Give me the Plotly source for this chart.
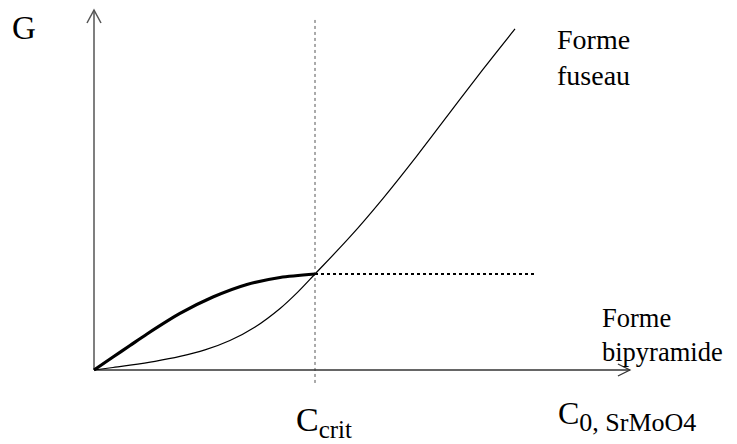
import plotly.graph_objects as go

# Data (C in units of C_crit, G in units of G at C_crit)
fuseau_c = [0.0, 0.086, 0.163, 0.276, 0.389, 0.502, 0.615, 0.729, 0.842, 0.923, 1.0,
            1.158, 1.308, 1.462, 1.611, 1.760, 1.905]
fuseau_g = [0.0, 0.026, 0.050, 0.0906, 0.1417, 0.209, 0.307, 0.448, 0.641, 0.814, 1.0,
            1.386, 1.789, 2.234, 2.684, 3.131, 3.553]

bipyr_c = [0.0, 0.086, 0.163, 0.240, 0.389, 0.538, 0.692, 0.842, 1.0]
bipyr_g = [0.0, 0.135, 0.255, 0.375, 0.589, 0.760, 0.891, 0.964, 1.0]

c_crit = 1.0
g_crit = 1.0
plateau_end = 1.991
x_axis_end = 2.425
y_axis_end = 3.75
vline_bottom = -0.135
vline_top = 3.677

# page body has an 8px margin -> figure covers window px 8..737 x 8..444
OFF = 8
W, H = 737 - OFF, 444 - OFF
x_range = [(OFF - 94) / 221, (737 - 94) / 221]
y_range = [(370 - 444) / 96, (370 - OFF) / 96]

FONT = "Liberation Serif"

fig = go.Figure()

fig.add_trace(go.Scatter(x=[c_crit, c_crit], y=[vline_bottom, vline_top], mode="lines",
                         line=dict(color="#555555", width=1, dash="dot"), hoverinfo="skip"))
fig.add_trace(go.Scatter(x=[c_crit, plateau_end], y=[g_crit, g_crit], mode="lines",
                         line=dict(color="black", width=2, dash="dot"), hoverinfo="skip"))
fig.add_trace(go.Scatter(x=[0, x_axis_end], y=[0, 0], mode="lines",
                         line=dict(color="#333333", width=1.3), hoverinfo="skip"))
fig.add_trace(go.Scatter(x=[0, 0], y=[0, y_axis_end], mode="lines",
                         line=dict(color="#555555", width=1.5), hoverinfo="skip"))
fig.add_trace(go.Scatter(x=fuseau_c, y=fuseau_g, mode="lines",
                         line=dict(color="black", width=1.2, shape="spline", smoothing=1.0), hoverinfo="skip"))
fig.add_trace(go.Scatter(x=bipyr_c, y=bipyr_g, mode="lines",
                         line=dict(color="black", width=3.2, shape="spline", smoothing=0.8), hoverinfo="skip"))

fig.add_shape(type="path", xsizemode="pixel", ysizemode="pixel",
              xanchor=0, yanchor=y_axis_end, xref="x", yref="y",
              path="M -7 -13 L 0 0 L 7 -13", line=dict(color="#555555", width=1.5))
fig.add_shape(type="path", xsizemode="pixel", ysizemode="pixel",
              xanchor=x_axis_end, yanchor=0, xref="x", yref="y",
              path="M -12 6 L 0 0 L -12 -6", line=dict(color="#333333", width=1.3))

def px(xp, yp):
    return (xp - OFF) / W, 1 - (yp - OFF) / H

annots = [
    ("G", 10, 28, 33),
    ("Forme<br>fuseau", 555, 58, 28),
    ("Forme<br>bipyramide", 600, 335, 26.5),
    ("C<sub><span style='font-size:25px'>crit</span></sub>", 294, 422, 34),
    ("C<sub><span style='font-size:26px'>0, SrMoO4</span></sub>", 556, 416, 32),
]
for text, xp, yp, size in annots:
    ax, ay = px(xp, yp)
    fig.add_annotation(text=text, x=ax, y=ay, xref="paper", yref="paper",
                       xanchor="left", yanchor="middle", showarrow=False, align="left",
                       font=dict(family=FONT, size=size, color="black"))

fig.update_layout(
    width=W, height=H, margin=dict(l=0, r=0, t=0, b=0),
    font=dict(family=FONT),
    paper_bgcolor="white", plot_bgcolor="white", showlegend=False,
    xaxis=dict(range=x_range, visible=False, showgrid=False, zeroline=False),
    yaxis=dict(range=y_range, visible=False, showgrid=False, zeroline=False),
)

fig.write_html("out.html")
